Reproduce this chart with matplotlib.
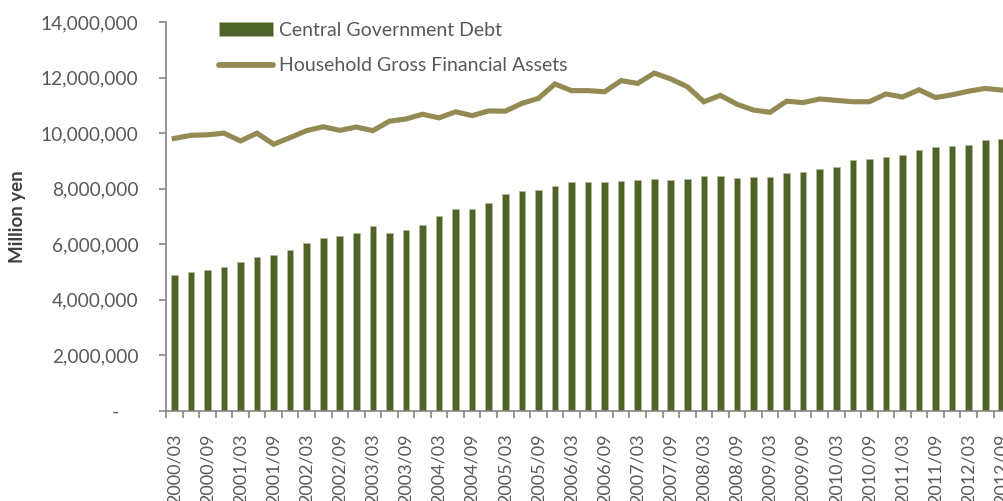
import matplotlib.pyplot as plt
import numpy as np
from matplotlib.ticker import FixedLocator, FuncFormatter

plt.rcParams['font.family'] = ['Lato', 'DejaVu Sans']

# quarterly labels 2000/03 .. 2012/09
quarters = [f"{y}/{m:02d}" for y in range(2000, 2013) for m in (3, 6, 9, 12)][:51]

gov_debt = [4.89, 5.00, 5.09, 5.18, 5.36, 5.54, 5.63, 5.79, 6.03, 6.24,
            6.29, 6.41, 6.67, 6.41, 6.53, 6.68, 7.02, 7.26, 7.28, 7.47,
            7.80, 7.93, 7.97, 8.10, 8.24, 8.24, 8.24, 8.29, 8.30, 8.34,
            8.30, 8.35, 8.45, 8.45, 8.40, 8.43, 8.43, 8.57, 8.61, 8.70,
            8.79, 9.02, 9.06, 9.15, 9.21, 9.40, 9.51, 9.55, 9.56, 9.74,
            9.80]

household_assets = [9.81, 9.92, 9.94, 10.00, 9.72, 10.00, 9.60, 9.84, 10.09, 10.23,
                    10.10, 10.22, 10.09, 10.43, 10.51, 10.68, 10.55, 10.77, 10.63, 10.80,
                    10.79, 11.07, 11.25, 11.77, 11.53, 11.53, 11.49, 11.89, 11.79, 12.16,
                    11.95, 11.67, 11.13, 11.36, 11.04, 10.83, 10.75, 11.15, 11.10, 11.23,
                    11.18, 11.13, 11.13, 11.41, 11.30, 11.56, 11.28, 11.38, 11.51, 11.61,
                    11.55]

debt = np.array(gov_debt) * 1e6
assets = np.array(household_assets) * 1e6
x = np.arange(len(quarters))

W, H = 1004, 501
fig = plt.figure(figsize=(W / 100, H / 100), dpi=100)
step = 16.55
left, bottom, top = 166, 411, 22
axw = 52 * step
ax = fig.add_axes([left / W, (H - bottom) / H, axw / W, (bottom - top) / H])

bars = ax.bar(x, debt, width=0.4, color='#4F6228', edgecolor='#b3bb98', linewidth=0.6,
              label='Central Government Debt', zorder=2)
line, = ax.plot(x, assets, color='#948A54', lw=3.7, solid_joinstyle='miter',
                label='Household Gross Financial Assets', zorder=3)

ax.set_xlim(-0.5, 51.5)
ax.set_ylim(0, 14e6)

grey = '#868686'
txt = '#595959'
for s in ('top', 'right'):
    ax.spines[s].set_visible(False)
for s in ('left', 'bottom'):
    ax.spines[s].set_color(grey)
    ax.spines[s].set_linewidth(1.2)

ax.set_yticks(np.arange(0, 14e6 + 1, 2e6))
ax.yaxis.set_major_formatter(FuncFormatter(lambda v, p: '-    ' if v == 0 else f"{v:,.0f}"))
ax.tick_params(axis='y', length=5, width=1.2, color=grey, labelcolor=txt, labelsize=13.8, pad=15)

ax.set_xticks(x[::2])
ax.set_xticklabels(quarters[::2], rotation=90)
ax.xaxis.set_minor_locator(FixedLocator(np.arange(-0.5, 51.6, 1)))
ax.tick_params(axis='x', which='major', length=0, labelcolor=txt, labelsize=13, pad=16)
ax.tick_params(axis='x', which='minor', length=5, width=1.2, color=grey)

ax.set_ylabel('Million yen', fontsize=13.5, fontweight='bold', color='#404040')
ax.yaxis.set_label_coords((26 - left) / axw, 0.5)

leg = ax.legend([bars, line], [bars.get_label(), line.get_label()],
                loc='upper left', bbox_to_anchor=((202 - left) / axw, 1.045),
                frameon=False, fontsize=14, handlelength=2.75, handletextpad=0.3,
                labelspacing=0.95, labelcolor=txt)
leg.legend_handles[1].set_solid_capstyle('round')
leg.legend_handles[1].set_linewidth(4.2)

fig.savefig('out.png', dpi=100)
